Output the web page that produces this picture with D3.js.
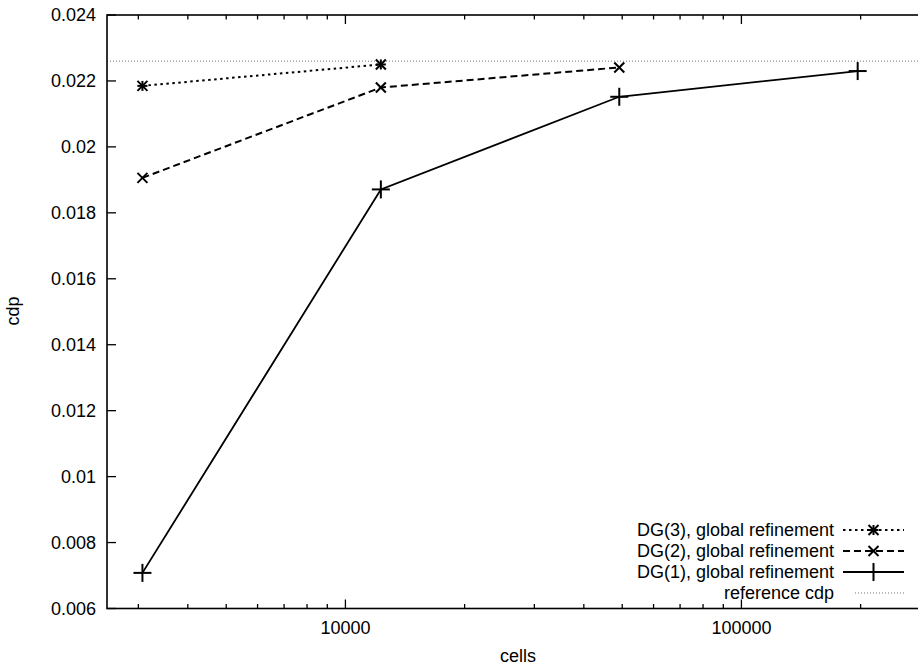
<!DOCTYPE html>
<html><head><meta charset="utf-8">
<script src="https://cdn.jsdelivr.net/npm/d3@7"></script>
<style>body{margin:0;background:#fff}svg{display:block}text{font-family:"Liberation Sans",Arial,sans-serif;fill:#000}</style>
</head><body><svg id="c" width="918" height="666"></svg>
<script>
const cells1 = [3072, 12288, 49152, 196608];
const dg1 = [0.00708, 0.01871, 0.02152, 0.0223];
const cells2 = [3072, 12288, 49152];
const dg2 = [0.01906, 0.0218, 0.02241];
const cells3 = [3072, 12288];
const dg3 = [0.02185, 0.0225];
const refCdp = 0.0226;
const yTicks = [0.006, 0.008, 0.01, 0.012, 0.014, 0.016, 0.018, 0.02, 0.022, 0.024];
const yTickLabels = ["0.006","0.008","0.01","0.012","0.014","0.016","0.018","0.02","0.022","0.024"];
const xMajor = [10000, 100000];
const xMajorLabels = ["10000","100000"];
const xMinor = [3000,4000,5000,6000,7000,8000,9000,20000,30000,40000,50000,60000,70000,80000,90000,200000,300000];
const legendLabels = ["DG(3), global refinement","DG(2), global refinement","DG(1), global refinement","reference cdp"];

const svg = d3.select("#c");
const L = 107, T = 15, B = 608.5;
const x = d3.scaleLog().domain([2500, 300000]).range([L, L + (Math.log10(300000) - Math.log10(2500)) * 396]);
const y = d3.scaleLinear().domain([0.006, 0.024]).range([B, T]);
const R = x.range()[1];
const fs = 18;

// reference line
svg.append("line").attr("x1", L).attr("x2", R).attr("y1", y(refCdp)).attr("y2", y(refCdp))
  .attr("stroke", "#777").attr("stroke-width", 1).attr("stroke-dasharray", "1,2");

// ticks
const g = svg.append("g");
yTicks.forEach((v, i) => {
  g.append("line").attr("x1", L).attr("x2", L + 9).attr("y1", y(v)).attr("y2", y(v)).attr("stroke", "#000").attr("stroke-width", 1.3);
  g.append("line").attr("x1", R).attr("x2", R - 9).attr("y1", y(v)).attr("y2", y(v)).attr("stroke", "#000").attr("stroke-width", 1.3);
  g.append("text").attr("x", 96).attr("y", y(v)).attr("dy", "0.35em").attr("text-anchor", "end").attr("font-size", fs).text(yTickLabels[i]);
});
xMajor.forEach((v, i) => {
  g.append("line").attr("x1", x(v)).attr("x2", x(v)).attr("y1", B).attr("y2", B - 9).attr("stroke", "#000").attr("stroke-width", 1.3);
  g.append("line").attr("x1", x(v)).attr("x2", x(v)).attr("y1", T).attr("y2", T + 9).attr("stroke", "#000").attr("stroke-width", 1.3);
  g.append("text").attr("x", x(v)).attr("y", 628).attr("dy", "0.35em").attr("text-anchor", "middle").attr("font-size", fs).text(xMajorLabels[i]);
});
xMinor.forEach(v => {
  g.append("line").attr("x1", x(v)).attr("x2", x(v)).attr("y1", B).attr("y2", B - 4.5).attr("stroke", "#000").attr("stroke-width", 1.3);
  g.append("line").attr("x1", x(v)).attr("x2", x(v)).attr("y1", T).attr("y2", T + 4.5).attr("stroke", "#000").attr("stroke-width", 1.3);
});

// border
svg.append("rect").attr("x", L).attr("y", T).attr("width", R - L).attr("height", B - T)
  .attr("fill", "none").attr("stroke", "#000").attr("stroke-width", 1.6);

// labels
svg.append("text").attr("x", 518).attr("y", 656).attr("dy", "0.35em").attr("text-anchor", "middle").attr("font-size", fs).text("cells");
svg.append("text").attr("transform", "translate(13,311) rotate(-90)").attr("dy", "0.35em").attr("text-anchor", "middle").attr("font-size", fs).text("cdp");

const line = d3.line().x(d => x(d[0])).y(d => y(d[1]));
const series = [
  {xs: cells3, ys: dg3, dash: "2.5,3.5", mark: "star"},
  {xs: cells2, ys: dg2, dash: "7,4", mark: "x"},
  {xs: cells1, ys: dg1, dash: null, mark: "plus"}
];
function marker(sel, type, cx, cy) {
  const gg = sel.append("g").attr("transform", `translate(${cx},${cy})`).attr("stroke", "#000").attr("stroke-width", 2);
  if (type === "plus") {
    gg.append("line").attr("x1", -9).attr("x2", 9).attr("y1", 0).attr("y2", 0);
    gg.append("line").attr("x1", 0).attr("x2", 0).attr("y1", -9).attr("y2", 9);
  } else if (type === "x") {
    gg.append("line").attr("x1", -5).attr("x2", 5).attr("y1", -5).attr("y2", 5);
    gg.append("line").attr("x1", -5).attr("x2", 5).attr("y1", 5).attr("y2", -5);
  } else {
    gg.append("line").attr("x1", -5).attr("x2", 5).attr("y1", -5).attr("y2", 5);
    gg.append("line").attr("x1", -5).attr("x2", 5).attr("y1", 5).attr("y2", -5);
    gg.append("line").attr("x1", -5).attr("x2", 5).attr("y1", 0).attr("y2", 0);
    gg.append("line").attr("x1", 0).attr("x2", 0).attr("y1", -5).attr("y2", 5);
  }
}
series.forEach(s => {
  const pts = s.xs.map((v, i) => [v, s.ys[i]]);
  svg.append("path").attr("d", line(pts)).attr("fill", "none").attr("stroke", "#000")
    .attr("stroke-width", s.dash ? 2 : 1.8).attr("stroke-dasharray", s.dash);
  pts.forEach(p => marker(svg, s.mark, x(p[0]), y(p[1])));
});

// legend
const rows = [530, 551, 572, 593];
const sx1 = 843, sx2 = 904, tx = 834;
legendLabels.forEach((lab, i) => {
  svg.append("text").attr("x", tx).attr("y", rows[i]).attr("dy", "0.35em").attr("text-anchor", "end").attr("font-size", fs).text(lab);
});
series.forEach((s, i) => {
  svg.append("line").attr("x1", sx1).attr("x2", sx2).attr("y1", rows[i]).attr("y2", rows[i])
    .attr("stroke", "#000").attr("stroke-width", s.dash ? 2 : 1.8).attr("stroke-dasharray", s.dash);
  marker(svg, s.mark, (sx1 + sx2) / 2, rows[i]);
});
svg.append("line").attr("x1", sx1 + 12).attr("x2", sx2).attr("y1", rows[3]).attr("y2", rows[3])
  .attr("stroke", "#777").attr("stroke-width", 1).attr("stroke-dasharray", "1,2");
</script></body></html>
